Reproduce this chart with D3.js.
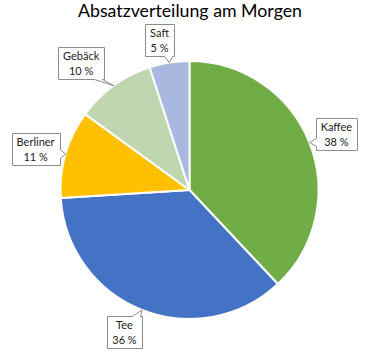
<!DOCTYPE html>
<html><head><meta charset="utf-8">
<script src="https://cdn.jsdelivr.net/npm/d3@7"></script>
<style>
html,body{margin:0;padding:0;background:#fff;}
svg{display:block;font-family:Lato,"Open Sans",sans-serif;}
</style></head>
<body>
<svg id="chart" width="370" height="356"></svg>
<script>
const title = "Absatzverteilung am Morgen";
const categories = ["Kaffee", "Tee", "Berliner", "Gebäck", "Saft"];
const values = [38, 36, 11, 10, 5];
const percentLabels = ["38 %", "36 %", "11 %", "10 %", "5 %"];
const colors = ["#70AD47", "#4472C4", "#FFC000", "#BFD6B1", "#A9B8DE"];
// callout box centre offsets from the anchor point on the pie edge
const calloutOffsets = [[27, -9], [-17.5, 22.5], [-30, -5.5], [-32.5, -22.6], [-9.8, -22.6]];

const svg = d3.select("#chart");
const cx = 189.5, cy = 190, r = 129;

const t = svg.append("text").attr("x", 190).attr("y", 17).attr("text-anchor", "middle")
  .attr("fill", "#000").style("font-size", "18.6px").text(title);
const tw = t.node().getComputedTextLength();
t.style("font-size", (18.6 * 224 / tw).toFixed(2) + "px");

const data = categories.map((c, i) => ({cat: c, value: values[i], pct: percentLabels[i], color: colors[i], off: calloutOffsets[i]}));
const pie = d3.pie().value(d => d.value).sort(null);
const arcs = pie(data);
const arc = d3.arc().innerRadius(0).outerRadius(r);

const g = svg.append("g").attr("transform", `translate(${cx},${cy})`);
g.selectAll("path").data(arcs).join("path")
  .attr("d", arc).attr("fill", d => d.data.color)
  .attr("stroke", "#fff").attr("stroke-width", 2).attr("stroke-linejoin", "round");

function calloutPath(x0, y0, x1, y1, tx, ty) {
  const hw = 4, m = 2;
  const clamp = (v, a, b) => Math.max(a, Math.min(b, v));
  let side;
  if (ty < y0) side = "top"; else if (ty > y1) side = "bottom";
  else if (tx > x1) side = "right"; else side = "left";
  let p = `M${x0},${y0}`;
  if (side === "top") { const c = clamp(tx, x0 + hw + m, x1 - hw - m); p += `L${c - hw},${y0}L${tx},${ty}L${c + hw},${y0}`; }
  p += `L${x1},${y0}`;
  if (side === "right") { const c = clamp(ty, y0 + hw + m, y1 - hw - m); p += `L${x1},${c - hw}L${tx},${ty}L${x1},${c + hw}`; }
  p += `L${x1},${y1}`;
  if (side === "bottom") { const c = clamp(tx, x0 + hw + m, x1 - hw - m); p += `L${c + hw},${y1}L${tx},${ty}L${c - hw},${y1}`; }
  p += `L${x0},${y1}`;
  if (side === "left") { const c = clamp(ty, y0 + hw + m, y1 - hw - m); p += `L${x0},${c + hw}L${tx},${ty}L${x0},${c - hw}`; }
  return p + "Z";
}

const lab = svg.append("g");
arcs.forEach(a => {
  const mid = (a.startAngle + a.endAngle) / 2;
  const tx = cx + r * Math.sin(mid), ty = cy - r * Math.cos(mid);
  const bx = tx + a.data.off[0], by = ty + a.data.off[1];
  const grp = lab.append("g");
  const path = grp.append("path").attr("fill", "#fff").attr("stroke", "#8c8c8c").attr("stroke-width", 1);
  const t1 = grp.append("text").attr("text-anchor", "middle").attr("x", bx).attr("y", by - 3)
    .style("font-size", "11px").attr("fill", "#1a1a1a").text(a.data.cat);
  const t2 = grp.append("text").attr("text-anchor", "middle").attr("x", bx).attr("y", by + 12)
    .style("font-size", "11px").attr("fill", "#1a1a1a").text(a.data.pct);
  const w = Math.max(t1.node().getComputedTextLength(), t2.node().getComputedTextLength()) + 10;
  const h = 32;
  const x0 = Math.round(bx - w / 2) + 0.5, x1 = Math.round(bx + w / 2) + 0.5;
  const y0 = Math.round(by - h / 2) + 0.5, y1 = Math.round(by + h / 2) + 0.5;
  path.attr("d", calloutPath(x0, y0, x1, y1, tx, ty));
});
</script>
</body></html>
